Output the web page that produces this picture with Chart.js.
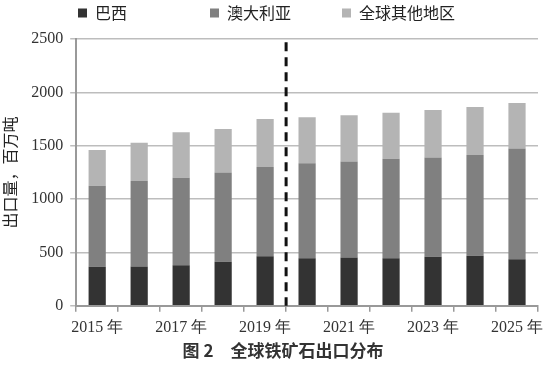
<!DOCTYPE html>
<html>
<head>
<meta charset="utf-8">
<script src="https://cdn.jsdelivr.net/npm/chart.js@4"></script>
<style>
  html, body { margin: 0; padding: 0; background: #fff; }
  #wrap { width: 550px; height: 365px; }
</style>
</head>
<body>
<div id="wrap"><canvas id="grafico"></canvas></div>
<script>
// --- datos (millones de toneladas) ---
const anios = ["2015", "2016", "2017", "2018", "2019", "2020", "2021", "2022", "2023", "2024", "2025"];
const brasil = [365, 368, 381, 412, 465, 446, 452, 446, 459, 468, 437];
const australia = [759, 802, 820, 836, 836, 890, 899, 933, 930, 946, 1036];
const restoMundo = [337, 359, 425, 409, 449, 431, 434, 431, 446, 449, 428];
const yTicks = [0, 500, 1000, 1500, 2000, 2500];
const divisor = 4.5; // entre 2019 y 2020
const divisorTope = 2470;
const tituloFigura = "图 2　全球铁矿石出口分布";

const serif = "'Liberation Serif', 'Times New Roman', serif";
const cjk = "'Noto Sans CJK SC', sans-serif";

// linea punteada vertical (historico / prevision)
const lineaDivisoria = {
  id: "lineaDivisoria",
  afterDatasetsDraw(chart) {
    const { ctx, scales: { x, y } } = chart;
    const px = x.getPixelForValue(divisor);
    ctx.save();
    ctx.strokeStyle = "#111";
    ctx.lineWidth = 3;
    ctx.setLineDash([9, 6]);
    ctx.beginPath();
    ctx.moveTo(px, y.getPixelForValue(divisorTope));
    ctx.lineTo(px, y.getPixelForValue(0));
    ctx.stroke();
    ctx.restore();
  }
};

// leyenda propia (una fila, entradas del mismo ancho) y pie de figura
const leyenda = {
  id: "leyenda",
  afterDraw(chart) {
    const { ctx } = chart;
    const caja = 9, sep = 8, paso = 132;
    let x = 78;
    const yc = 13;
    ctx.save();
    ctx.font = "16px " + cjk;
    ctx.textBaseline = "middle";
    chart.data.datasets.forEach(d => {
      ctx.fillStyle = d.backgroundColor;
      ctx.fillRect(x, yc - caja / 2, caja, caja);
      ctx.fillStyle = "#222";
      ctx.fillText(d.label, x + caja + sep, yc);
      x += paso;
    });

    // titulo de la figura, abajo
    ctx.font = "bold 17px " + cjk;
    ctx.fillStyle = "#333";
    ctx.textAlign = "center";
    ctx.fillText(tituloFigura, chart.width / 2 + 8, chart.height - 14);
    ctx.restore();
  }
};

new Chart(document.getElementById("grafico"), {
  type: "bar",
  data: {
    labels: anios,
    datasets: [
      { label: "巴西", data: brasil, backgroundColor: "#333333" },
      { label: "澳大利亚", data: australia, backgroundColor: "#808080" },
      { label: "全球其他地区", data: restoMundo, backgroundColor: "#b4b4b4" }
    ]
  },
  options: {
    responsive: true,
    maintainAspectRatio: false,
    animation: false,
    layout: { padding: { left: 0, right: 12, top: 39, bottom: 22 } },
    datasets: { bar: { categoryPercentage: 0.41, barPercentage: 1 } },
    plugins: {
      legend: { display: false },
      title: { display: false },
      tooltip: { enabled: false }
    },
    scales: {
      x: {
        stacked: true,
        border: { color: "#999", width: 2 },
        grid: { display: true, drawOnChartArea: false, drawTicks: true, tickLength: 6, color: "#999", lineWidth: 1.5 },
        ticks: {
          autoSkip: false,
          maxRotation: 0,
          color: "#333",
          padding: 6,
          font: { family: serif, size: 16 },
          callback: (v, i) => (i % 2 === 0 ? anios[i] + " 年" : "")
        }
      },
      y: {
        stacked: true,
        min: 0,
        max: 2500,
        afterBuildTicks: (axis) => { axis.ticks = yTicks.map(v => ({ value: v })); },
        border: { color: "#999", width: 2 },
        grid: { color: "#bdbdbd", lineWidth: 1.5, tickLength: 6 },
        ticks: { color: "#333", padding: 7, font: { family: serif, size: 16 }, callback: v => String(v) },
        title: {
          display: true,
          text: "出口量，百万吨",
          color: "#222",
          font: { family: cjk, size: 16 },
          padding: { top: 0, bottom: 5 }
        }
      }
    }
  },
  plugins: [lineaDivisoria, leyenda]
});
</script>
</body>
</html>
